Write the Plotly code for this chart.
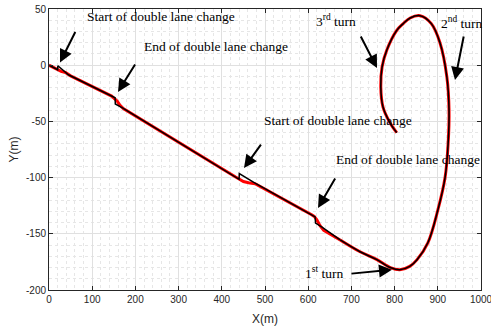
import plotly.graph_objects as go

# reference path (black), straight section with the lane change steps
ref_x = [0, 20, 20.5, 45, 153, 153.5, 170, 440, 440.5, 477, 616, 617, 632, 674]
ref_y = [0, -4, -0.5, -8.5, -29, -34.5, -38, -101.5, -96.5, -105, -135, -140.5, -144, -155.5]

# actual path (red), straight section
act_x = [0, 10, 20, 28, 38, 50, 145, 152, 158, 164, 172, 432, 440, 450, 462, 477, 608, 614, 620, 627, 636, 674]
act_y = [0, -2, -4, -5.5, -6.5, -9.5, -27.5, -29.5, -32, -35.5, -38.5, -99.5, -101.5, -103.5, -104.5, -105.5,
         -133, -134.5, -137.5, -142.5, -147, -155.5]

# the loop, both paths lie on top of each other
loop_x = [674, 720, 759, 790, 812, 835, 852, 877, 900, 917, 924, 926, 921, 905, 885, 859, 836, 820, 805, 782,
          771, 768, 773, 789, 805]
loop_y = [-155.5, -166, -173, -180, -182, -179, -173, -158, -129, -99.5, -69, -40, -10.5, 20, 37, 44, 42, 37, 31,
          13.5, -1.6, -19, -37, -51, -60]

x_ticks = [0, 100, 200, 300, 400, 500, 600, 700, 800, 900, 1000]
x_labels = ["0", "100", "200", "300", "400", "500", "600", "700", "800", "900", "1000"]
y_ticks = [50, 0, -50, -100, -150, -200]
y_labels = ["50", "0", "-50", "-100", "-150", "-200"]

# annotation texts, their centre positions, arrow tips and tail offsets (px)
notes = [
    ("Start of double lane change", 259, 42.9, 25.5, 2.4, 16, -32),
    ("End of double lane change", 387, 16.2, 159.7, -23.8, 18, -29),
    ("Start of double lane change", 669, -48.8, 451.4, -91.5, 18, -25),
    ("End of double lane change", 831, -84.3, 622.7, -127, 18, -31),
    ("1<sup>st</sup> turn", 637, -184.5, 793.9, -182, -42, 4),
    ("2<sup>nd</sup> turn", 955, 38.4, 939.8, -13.2, 9, -45),
    ("3<sup>rd</sup> turn", 665, 40.2, 759.3, -2.5, -17, -33),
]

fig = go.Figure()
fig.add_trace(go.Scatter(x=act_x, y=act_y, mode="lines", line=dict(color="red", width=3)))
fig.add_trace(go.Scatter(x=loop_x, y=loop_y, mode="lines", line=dict(color="red", width=3, shape="spline")))
fig.add_trace(go.Scatter(x=ref_x, y=ref_y, mode="lines", line=dict(color="black", width=1.5)))
fig.add_trace(go.Scatter(x=loop_x, y=loop_y, mode="lines", line=dict(color="black", width=1.5, shape="spline")))

for txt, tx, ty, hx, hy, ax, ay in notes:
    fig.add_annotation(x=tx, y=ty, text=txt, showarrow=False,
                       font=dict(family="Liberation Serif", size=13.5, color="black"))
    fig.add_annotation(x=hx, y=hy, text="", showarrow=True, ax=ax, ay=ay,
                       arrowhead=2, arrowsize=1.3, arrowwidth=2, arrowcolor="black", standoff=0)

axis_common = dict(
    showline=True, linecolor="#262626", linewidth=1, mirror="ticks",
    ticks="inside", ticklen=4, tickcolor="#262626",
    showgrid=True, gridcolor="#e0e0e0", gridwidth=1, zeroline=False,
    tickfont=dict(family="Liberation Sans", size=10, color="#262626"),
    automargin=False, ticklabeloverflow="allow",
)

fig.update_xaxes(range=[0, 1000], tickvals=x_ticks, ticktext=x_labels,
                 minor=dict(dtick=20, showgrid=True, gridcolor="#e6e6e6", griddash="dot", ticks=""),
                 title=dict(text="X(m)", font=dict(family="Liberation Sans", size=12, color="#262626"), standoff=10),
                 **axis_common)
fig.update_yaxes(range=[-200, 50], tickvals=y_ticks, ticktext=y_labels,
                 minor=dict(dtick=10, showgrid=True, gridcolor="#e6e6e6", griddash="dot", ticks=""),
                 title=dict(text="Y(m)", font=dict(family="Liberation Sans", size=12, color="#262626"), standoff=4),
                 **axis_common)

fig.update_layout(
    width=491, height=330,
    margin=dict(l=49, r=10, t=9, b=40),
    paper_bgcolor="white", plot_bgcolor="white",
    showlegend=False, hovermode=False,
)

# drop the default 8px body margin so the figure sits at the window corner
fig.write_html("out.html", config={"displayModeBar": False},
               post_script="document.body.style.margin = '0';")
